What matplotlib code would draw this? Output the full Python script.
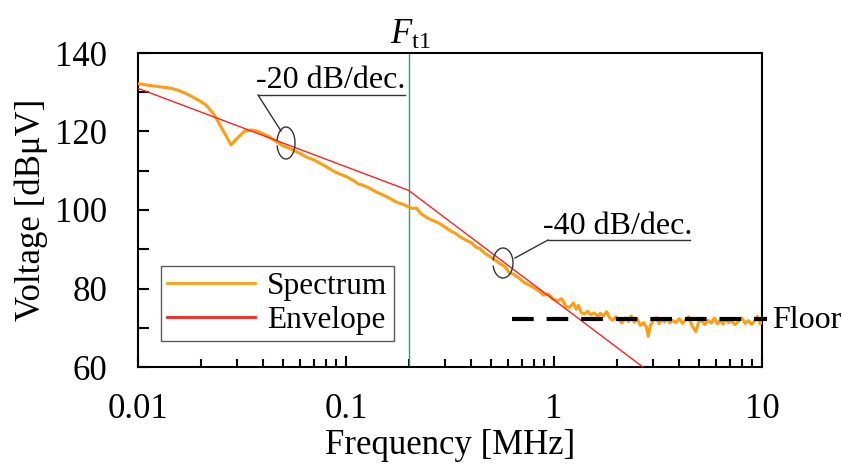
import matplotlib
matplotlib.use("Agg")
import matplotlib.pyplot as plt
from matplotlib.patches import Arc
from matplotlib.ticker import LogLocator, FixedLocator, NullFormatter, MultipleLocator
import numpy as np

plt.rcParams['font.family'] = ['Liberation Serif', 'DejaVu Serif']
plt.rcParams['mathtext.fontset'] = 'custom'
plt.rcParams['mathtext.rm'] = 'Liberation Serif'
plt.rcParams['mathtext.it'] = 'Liberation Serif:italic'

# Measured spectrum [MHz, dBuV]
spec_freq = [
    0.0100, 0.0115, 0.0127, 0.0145, 0.0160, 0.0176, 0.0195, 0.0212, 0.0233, 0.0255,
    0.0280, 0.0300, 0.0324, 0.0350, 0.0369, 0.0400, 0.0427, 0.0460, 0.0497, 0.0540,
    0.0602, 0.0650, 0.0700, 0.0750, 0.0800, 0.0870, 0.0930, 0.1005, 0.1080, 0.1150,
    0.1220, 0.1302, 0.1400, 0.1500, 0.1621, 0.1750, 0.1870, 0.1985, 0.2080, 0.2180,
    0.2300, 0.2480, 0.2650, 0.2832, 0.3000, 0.3200, 0.3350, 0.3527, 0.3750, 0.4000,
    0.4200, 0.4393, 0.4700, 0.5000, 0.5200, 0.5472, 0.5800, 0.6100, 0.6400, 0.6815,
    0.7200, 0.7600, 0.8000, 0.8490, 0.8900, 0.9400, 0.9900, 1.0400, 1.0900, 1.1400,
    1.1900, 1.2400, 1.2800, 1.3100, 1.3500, 1.4000, 1.4500, 1.5000, 1.5600, 1.6200,
    1.6700, 1.7300, 1.7900, 1.8500, 1.9100, 1.9800, 2.0500, 2.1200, 2.2000, 2.2800,
    2.3500, 2.4300, 2.5200, 2.6000, 2.7000, 2.7800, 2.8400, 2.9000, 3.0000, 3.1000,
    3.2000, 3.3000, 3.4000, 3.5000, 3.6000, 3.7000, 3.8500, 4.0000, 4.1500, 4.3000,
    4.4500, 4.6000, 4.8000, 4.9500, 5.1000, 5.3000, 5.5000, 5.7000, 5.9000, 6.1000,
    6.3000, 6.5000, 6.7000, 6.9000, 7.1000, 7.4000, 7.7000, 8.0000, 8.3000, 8.6000,
    8.9000, 9.2000, 9.5000, 9.8000, 10.000,
]
spec_db = [
    132.2, 131.7, 131.4, 131.0, 130.3, 129.3, 128.0, 126.8, 124.2, 120.5,
    116.6, 118.3, 120.0, 120.4, 120.2, 119.4, 118.7, 117.5, 116.4, 115.6,
    114.4, 113.4, 112.8, 111.9, 111.1, 109.9, 109.2, 108.5, 107.6, 106.6,
    106.2, 105.5, 104.6, 103.9, 103.0, 102.0, 101.5, 100.9, 100.4, 100.5,
    99.0, 97.9, 97.2, 96.5, 95.6, 94.6, 94.1, 93.2, 92.4, 91.7,
    90.6, 90.2, 88.8, 87.9, 87.3, 86.4, 85.6, 84.0, 83.6, 82.6,
    81.5, 80.9, 80.2, 79.4, 78.3, 78.6, 77.3, 76.9, 77.4, 75.4,
    75.2, 76.3, 74.7, 75.7, 73.9, 73.5, 74.2, 73.3, 73.8, 72.9,
    73.7, 73.0, 74.1, 72.6, 71.9, 72.8, 72.1, 71.2, 72.5, 71.6,
    73.0, 71.4, 72.2, 70.6, 71.3, 70.2, 67.8, 70.5, 71.8, 72.6,
    71.0, 72.2, 71.5, 72.4, 71.2, 71.9, 71.3, 72.3, 71.1, 72.0,
    72.8, 70.6, 69.0, 71.3, 72.1, 70.8, 71.9, 71.2, 72.5, 71.0,
    71.8, 70.9, 72.4, 71.3, 71.9, 70.8, 71.6, 72.5, 71.1, 71.8,
    70.9, 71.7, 72.9, 71.0, 71.5,
]

# Asymptotic envelope: -20 dB/dec up to Ft1, then -40 dB/dec
env_freq = [0.01, 0.2, 3.0]
env_db = [131.0, 105.0, 58.0]

ft1 = 0.2
floor_db = 72.2
floor_span = [0.63, 10.57]

x_ticks = [0.01, 0.1, 1, 10]
x_ticklabels = ['0.01', '0.1', '1', '10']
y_ticks = [60, 80, 100, 120, 140]

fig = plt.figure(figsize=(8.42, 4.67), dpi=100)
ax = fig.add_axes([138/842, 1-367/467, 624/842, 314/467])

ax.plot(spec_freq, spec_db, color='#ff9e12', lw=2.2, label='Spectrum', zorder=3)
ax.plot(env_freq, env_db, color='#ff2020', lw=1.0, label='Envelope', zorder=4)
ax.axvline(ft1, color='#2a9c78', lw=1.0, zorder=2)
ax.plot(floor_span, [floor_db, floor_db], color='black', lw=3.0,
        dashes=(5.2, 3.1), clip_on=False, zorder=5)

ax.set_xscale('log')
ax.set_xlim(0.01, 10)
ax.set_ylim(60, 140)
ax.xaxis.set_major_locator(FixedLocator(x_ticks))
ax.set_xticklabels(x_ticklabels)
ax.xaxis.set_minor_locator(LogLocator(base=10, subs=np.arange(2, 10)))
ax.xaxis.set_minor_formatter(NullFormatter())
ax.set_yticks(y_ticks)
ax.yaxis.set_minor_locator(MultipleLocator(10))

ax.tick_params(axis='both', which='both', direction='in', width=1.5,
               labelsize=25, top=False, right=False)
ax.tick_params(axis='x', which='major', length=8, pad=19)
ax.tick_params(axis='x', which='minor', length=6)
ax.tick_params(axis='y', which='both', length=8, pad=22)
for s in ax.spines.values():
    s.set_linewidth(1.5)

fig.text(31/842, 1-210/467, 'Voltage [dBμV]', rotation=90, ha='center',
         va='center', fontsize=25)
fig.text(450/842, 1-429/467, 'Frequency [MHz]', ha='center', va='top',
         fontsize=25)

leg = ax.legend(loc='lower left', bbox_to_anchor=(0.037, 0.083),
                borderaxespad=0, fontsize=22.5, frameon=True, fancybox=False,
                handlelength=2.8, handletextpad=0.4, borderpad=0.2,
                labelspacing=0.15)
leg.get_frame().set_edgecolor('#333333')
leg.get_frame().set_linewidth(1.0)
for h in leg.get_lines():
    h.set_linewidth(2.0)

# Ft1 label
fig.text(410/842, 1-35/467, r'$F_{\mathrm{t1}}$', ha='center', va='center',
         fontsize=25)

def fig_xy(x, y):
    return (x/842, 1-y/467)

lc = '#333333'
# -20 dB/dec. callout
fig.text(*fig_xy(331, 80), '-20 dB/dec.', ha='center', va='center', fontsize=23)
fig.add_artist(plt.Line2D([258/842, 405/842], [1-95/467, 1-95/467], color=lc, lw=1.0))
fig.add_artist(plt.Line2D([258/842, 281/842], [1-95/467, 1-131/467], color=lc, lw=1.0))
fig.add_artist(Arc((286/842, 1-143/467), 18/842, 32/467, theta1=205, theta2=515,
                   color=lc, lw=1.0, transform=fig.transFigure))

# -40 dB/dec. callout
fig.text(*fig_xy(618, 226), '-40 dB/dec.', ha='center', va='center', fontsize=23)
fig.add_artist(plt.Line2D([548/842, 690/842], [1-240/467, 1-240/467], color=lc, lw=1.0))
fig.add_artist(plt.Line2D([515/842, 548/842], [1-258/467, 1-240/467], color=lc, lw=1.0))
fig.add_artist(Arc((503/842, 1-263/467), 20/842, 30/467, theta1=205, theta2=515,
                   color=lc, lw=1.0, transform=fig.transFigure))

fig.text(772/842, 1-320/467, 'Floor', ha='left', va='center', fontsize=23)

fig.savefig('out.png', dpi=100)
